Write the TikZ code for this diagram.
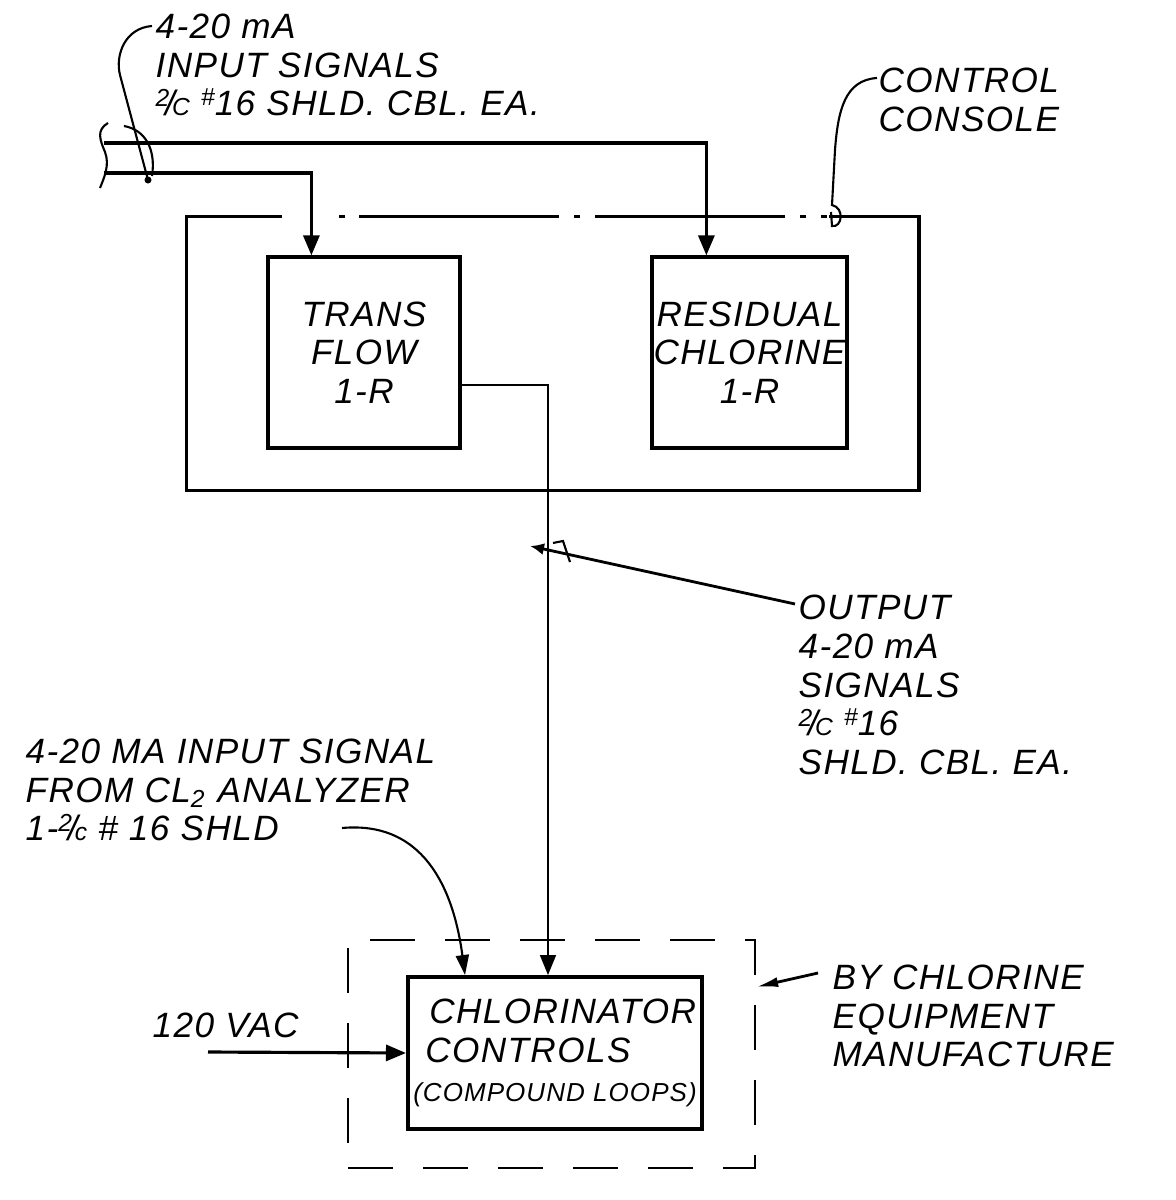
\documentclass[tikz,border=0pt]{standalone}
\usepackage{fontspec}
\setmainfont{Liberation Sans}[LetterSpace=4]
\usetikzlibrary{arrows.meta,positioning,calc}
\newcommand{\slc}[2]{\raisebox{0.5ex}{\scriptsize #1}\kern-0.12em/\kern-0.08em{\scriptsize #2}}
\newcommand{\nr}{\raisebox{0.55ex}{\scriptsize\#}}

\begin{document}
\begin{tikzpicture}[x=0.01cm, y=-0.01cm,
  font=\fontsize{10}{11}\selectfont\itshape,
  unit/.style={draw, line width=0.9pt, minimum width=#1, minimum height=1.91cm, align=center, inner sep=0pt},
  wire/.style={line width=0.9pt, -{Triangle[length=2mm,width=1.6mm]}},
  owire/.style={line width=0.5pt, -{Triangle[length=2mm,width=1.6mm]}},
  lead/.style={line width=0.6pt},
  lbl/.style={anchor=west, align=left, inner sep=0pt}
]
\useasboundingbox (0,0) rectangle (1176,1200);
% console
\node[minimum width=7.31cm, minimum height=2.73cm] (con) at (552.5,353.5) {};
\coordinate (conL) at ([xshift=9.6mm]con.north west);
\coordinate (conD) at ([xshift=15.3mm]con.north west);
\coordinate (conR) at ([xshift=-9mm]con.north east);
\draw[line width=0.9pt] (conR) -- (con.north east) -- (con.south east) -- (con.south west) -- (con.north west) -- (conL);
\draw[line width=0.9pt, dash pattern=on 0.6mm off 1.4mm on 20mm off 1.5mm on 0.6mm off 1.5mm on 19mm off 1.5mm on 0.6mm off 1.5mm] (conD) -- (conR);
% recorders
\node[unit=1.92cm] (trans) at (364,352.5) {TRANS\\FLOW\\1-R};
\node[unit=1.95cm] (resid) at (749.5,352.5) {RESIDUAL\\CHLORINE\\1-R};
% chlorinator
\node[draw, line width=0.6pt, dash pattern=on 4.5mm off 3mm, minimum width=4.07cm, minimum height=2.28cm] (mfr) at (551.5,1054) {};
\node[draw, line width=1.1pt, minimum width=2.94cm, minimum height=1.52cm, align=left, inner sep=0pt] (chlor) at (555,1053)
  {\hspace*{1.6mm}CHLORINATOR\\\hspace*{1.2mm}CONTROLS\\{\fontsize{7.4}{11}\selectfont(COMPOUND LOOPS)}};
% labels
\node[lbl] (insig) at (155,65) {4-20 mA\\INPUT SIGNALS\\\slc{2}{C} \nr16 SHLD. CBL. EA.};
\node[lbl] (conlbl) at (878,100) {CONTROL\\CONSOLE};
\node[lbl] (outlbl) at (798,685) {OUTPUT\\4-20 mA\\SIGNALS\\\slc{2}{C} \nr16\\SHLD. CBL. EA.};
\node[lbl] (anlbl) at (25,790) {4-20 MA INPUT SIGNAL\\FROM CL\textsubscript{2} ANALYZER\\1-\slc{2}{c} \# 16 SHLD};
\node[lbl] (vac) at (152,1025) {120 VAC};
\node[lbl] (mfrlbl) at (832,1016) {BY CHLORINE\\EQUIPMENT\\MANUFACTURE};
% cable in
\coordinate (cabA) at (104,143);
\coordinate (cabB) at (104,173);
\draw[wire] (cabA) -| ([xshift=5.6mm]resid.north west);
\draw[wire] (cabB) -| ([xshift=4.5mm]trans.north west);
\draw[lead] (108,123) .. controls (96,130) and (100,140) .. (105,152) .. controls (110,165) and (104,178) .. (100,188);
\draw[lead] (124,126) .. controls (146,130) and (156,150) .. (152,176);
\coordinate (inS) at (152,26);
\coordinate (inT) at (148,180);
\draw[lead] (inS) .. controls (125,28) and (115,55) .. (120,75) -- (inT);
\fill (inT) circle (0.35mm);
% console leader
\coordinate (conS) at (877,78);
\draw[lead] (conS) .. controls (845,80) and (838,110) .. (835,150) -- (832,205) .. controls (845,208) and (842,228) .. (832,226) -- (831,212);
% output
\draw[owire] ([yshift=-3.25mm]trans.east) -| ([xshift=-0.7mm]chlor.north);
\coordinate (outS) at (795,604);
\coordinate (outT) at (530,546);
\draw[line width=0.8pt, -{Latex[length=1.4mm,width=1.2mm]}] (outS) -- (outT);
\draw[lead] (553,543) -- (563,541) -- (570,562);
% analyzer, power, vendor
\coordinate (anS) at (342,828);
\draw[lead, -{Triangle[length=2mm,width=1.3mm]}] (anS) .. controls (430,820) and (455,900) .. ([xshift=5.9mm]chlor.north west);
\coordinate (vacS) at (208,1052);
\draw[wire] (vacS) -- (chlor.west);
\coordinate (mfrS) at (818,973);
\draw[line width=0.8pt, -{Latex[length=2.2mm,width=1mm]}] (mfrS) -- ([yshift=6.7mm]mfr.east);
\end{tikzpicture}
\end{document}
